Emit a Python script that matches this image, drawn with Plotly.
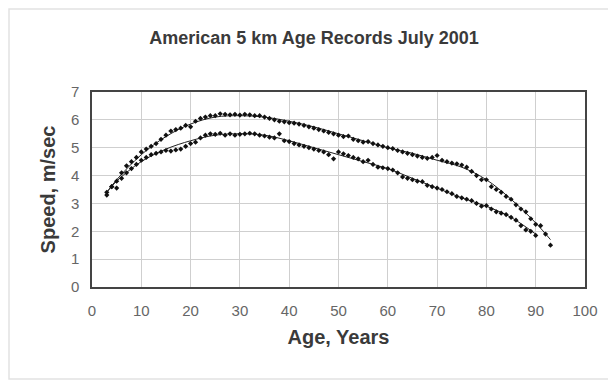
import plotly.graph_objects as go

# ---- data ----
men_age = list(range(3, 94))
men_speed = [3.3, 3.6, 3.8, 4.1, 4.35, 4.5, 4.65, 4.85, 4.95, 5.05,
             5.15, 5.3, 5.45, 5.6, 5.65, 5.7, 5.8, 5.75, 5.95, 6.05,
             6.1, 6.15, 6.15, 6.22, 6.2, 6.18, 6.2, 6.17, 6.2, 6.18,
             6.15, 6.15, 6.1, 6.05, 6.0, 5.95, 5.93, 5.9, 5.88, 5.85,
             5.8, 5.75, 5.7, 5.65, 5.6, 5.55, 5.5, 5.45, 5.4, 5.42,
             5.3, 5.25, 5.2, 5.22, 5.15, 5.1, 5.05, 5.0, 4.97, 4.9,
             4.85, 4.8, 4.75, 4.7, 4.65, 4.62, 4.65, 4.72, 4.55, 4.5,
             4.45, 4.42, 4.38, 4.3, 4.15, 4.0, 3.85, 3.85, 3.6, 3.5,
             3.4, 3.25, 3.15, 2.95, 2.8, 2.7, 2.45, 2.25, 2.2, 1.9, 1.5]

women_age = list(range(3, 91))
women_speed = [3.4, 3.6, 3.55, 3.9, 4.1, 4.25, 4.4, 4.55, 4.65, 4.75,
               4.8, 4.85, 4.9, 4.88, 4.92, 4.95, 5.05, 5.15, 5.2, 5.35,
               5.45, 5.5, 5.48, 5.52, 5.45, 5.5, 5.45, 5.48, 5.5, 5.52,
               5.5, 5.45, 5.42, 5.38, 5.35, 5.5, 5.25, 5.22, 5.15, 5.1,
               5.05, 5.0, 4.95, 4.9, 4.85, 4.75, 4.6, 4.85, 4.78, 4.72,
               4.65, 4.6, 4.5, 4.55, 4.4, 4.3, 4.28, 4.25, 4.2, 4.1,
               3.95, 3.9, 3.85, 3.8, 3.78, 3.65, 3.6, 3.55, 3.5, 3.42,
               3.35, 3.25, 3.2, 3.15, 3.1, 3.0, 2.9, 2.92, 2.8, 2.7,
               2.65, 2.6, 2.5, 2.4, 2.2, 2.05, 2.0, 1.85]

men_trend_age = [3, 5, 10, 15, 20, 25, 30, 35, 40, 45, 50, 55, 60, 65, 70, 75, 80, 85, 90, 93]
men_trend = [3.4, 3.85, 4.75, 5.4, 5.85, 6.1, 6.15, 6.1, 5.95, 5.75, 5.5, 5.25, 5.0, 4.8, 4.55, 4.3, 3.85, 3.15, 2.3, 1.7]

women_trend_age = [3, 5, 10, 15, 20, 25, 30, 35, 40, 45, 50, 55, 60, 65, 70, 75, 80, 85, 90]
women_trend = [3.4, 3.8, 4.5, 4.95, 5.25, 5.45, 5.5, 5.45, 5.25, 5.0, 4.75, 4.5, 4.25, 3.9, 3.55, 3.2, 2.9, 2.5, 1.9]

x_ticks = [0, 10, 20, 30, 40, 50, 60, 70, 80, 90, 100]
y_ticks = [0, 1, 2, 3, 4, 5, 6, 7]

FONT = "Liberation Sans, Arial, sans-serif"

fig = go.Figure()
for xs, ys in [(men_trend_age, men_trend), (women_trend_age, women_trend)]:
    fig.add_trace(go.Scatter(x=xs, y=ys, mode="lines",
                             line=dict(color="#222", width=1, shape="spline"),
                             hoverinfo="skip", showlegend=False))
for xs, ys in [(men_age, men_speed), (women_age, women_speed)]:
    fig.add_trace(go.Scatter(x=xs, y=ys, mode="markers",
                             marker=dict(symbol="diamond", size=4, color="#111"),
                             showlegend=False))

# page body has an 8px margin; figure origin sits at (8, 8) on the page
fig.update_layout(
    width=616, height=383,
    paper_bgcolor="white", plot_bgcolor="white",
    margin=dict(l=84, r=39, t=84, b=104),
    font=dict(family=FONT, color="#444"),
    title=dict(text="American 5 km Age Records July 2001",
               x=306 / 616, xanchor="center", y=1 - 30 / 383, yanchor="middle",
               font=dict(size=18, color="#3a3a3a", family=FONT, weight="bold")),
    xaxis=dict(range=[0, 100], tickvals=x_ticks, showgrid=True, gridcolor="#cfcfcf", gridwidth=1,
               zeroline=False, showline=True, linecolor="#444", linewidth=1.5, mirror=True,
               ticks="outside", ticklen=9, tickcolor="rgba(0,0,0,0)",
               tickfont=dict(size=15, color="#666"),
               title=dict(text="Age, Years", standoff=12,
                          font=dict(size=20, color="#3a3a3a", weight="bold"))),
    yaxis=dict(range=[0, 7], tickvals=y_ticks, showgrid=True, gridcolor="#cfcfcf", gridwidth=1,
               zeroline=False, showline=True, linecolor="#444", linewidth=1.5, mirror=True,
               ticks="outside", ticklen=8, tickcolor="rgba(0,0,0,0)",
               tickfont=dict(size=15, color="#666"),
               title=dict(text="Speed, m/sec", standoff=10,
                          font=dict(size=20, color="#3a3a3a", weight="bold"))),
    shapes=[dict(type="rect", xref="paper", yref="paper",
                 x0=-83 / 493, x1=1 + 24 / 493, y0=-92 / 195, y1=1 + 83 / 195,
                 line=dict(color="#e2e2e2", width=1.5), layer="below")],
)

fig.write_html("out.html")
